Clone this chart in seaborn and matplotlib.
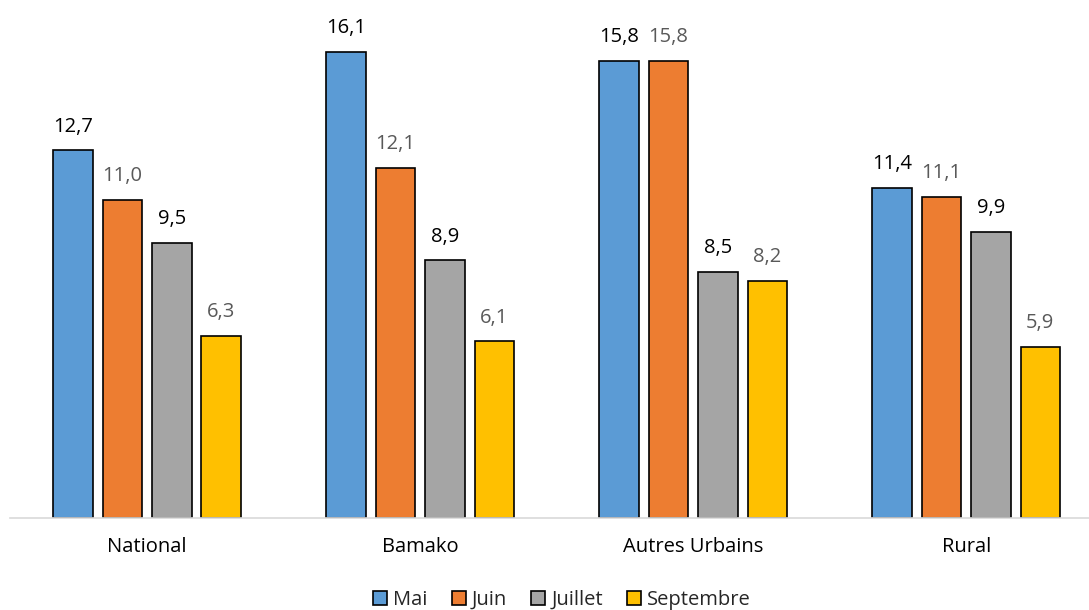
import pandas as pd
import matplotlib.pyplot as plt
import seaborn as sns

# Chart data
regions = ["National", "Bamako", "Autres Urbains", "Rural"]
months = ["Mai", "Juin", "Juillet", "Septembre"]
mai = [12.7, 16.1, 15.8, 11.4]
juin = [11.0, 12.1, 15.8, 11.1]
juillet = [9.5, 8.9, 8.5, 9.9]
septembre = [6.3, 6.1, 8.2, 5.9]

colors = ["#5b9bd5", "#ed7d31", "#a5a5a5", "#ffc000"]
label_colors = ["black", "#595959", "black", "#595959"]

df = pd.DataFrame({
    "Region": regions * 4,
    "Mois": [m for m in months for _ in regions],
    "Valeur": mai + juin + juillet + septembre,
})

sns.set_style("white")
plt.rcParams["font.family"] = ["Open Sans", "DejaVu Sans"]

fig = plt.figure(figsize=(10.89, 6.10), dpi=100)
ax = fig.add_axes([10 / 1089, 92 / 610, 1079 / 1089, 518 / 610])

sns.barplot(data=df, x="Region", y="Valeur", hue="Mois", palette=colors,
            saturation=1, width=0.725, gap=0.2, edgecolor="black", linewidth=1.2,
            order=regions, hue_order=months, ax=ax, legend=True)

for cont, lc in zip(ax.containers, label_colors):
    ax.bar_label(cont, labels=[f"{v:.1f}".replace(".", ",") for v in cont.datavalues],
                 padding=10, fontsize=14.5, color=lc)

ax.set_xlim(-0.502, 3.45)
ax.set_ylim(0, 17.9)
ax.set_xlabel("")
ax.set_ylabel("")
ax.set_yticks([])
ax.tick_params(axis="x", length=0, labelsize=14.5, labelcolor="black", pad=14)
for s in ["top", "right", "left"]:
    ax.spines[s].set_visible(False)
ax.spines["bottom"].set_color("#d9d9d9")
ax.spines["bottom"].set_linewidth(1.2)

ax.legend(loc="center", bbox_to_anchor=(562 / 1089, 10 / 610),
          bbox_transform=fig.transFigure, ncol=4, frameon=False,
          fontsize=14.5, handlelength=0.7, handleheight=0.7,
          handletextpad=0.3, columnspacing=1.2)

fig.savefig("out.png", dpi=100)
